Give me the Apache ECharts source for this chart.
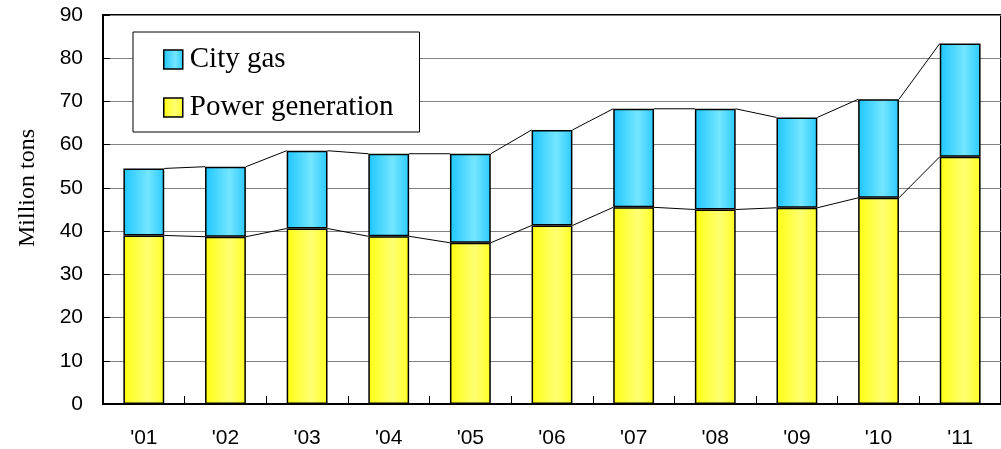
<!DOCTYPE html>
<html>
<head>
<meta charset="utf-8">
<script src="https://cdn.jsdelivr.net/npm/echarts@6/dist/echarts.min.js"></script>
<style>
  html, body { margin: 0; padding: 0; background: #fff; }
  #chart { width: 1001px; height: 449px; }
</style>
</head>
<body>
<div id="chart"></div>
<script>
// 年度
var years = ["'01", "'02", "'03", "'04", "'05", "'06", "'07", "'08", "'09", "'10", "'11"];
// 発電用 (million tons)
var powerGen = [39.0, 38.7, 40.6, 38.8, 37.3, 41.3, 45.5, 45.0, 45.4, 47.7, 57.2];
// 都市ガス用 (million tons)
var cityGas = [15.5, 16.2, 18.0, 19.1, 20.6, 22.1, 22.8, 23.3, 20.9, 22.8, 26.2];
var yTicks = [0, 10, 20, 30, 40, 50, 60, 70, 80, 90];

// stack tops, for the series lines between bars
var totals = powerGen.map(function (v, i) { return v + cityGas[i]; });

var chart = echarts.init(document.getElementById('chart'));

var cyanFill = new echarts.graphic.LinearGradient(0, 0, 1, 0, [
    { offset: 0, color: '#1ec6ff' },
    { offset: 0.6, color: '#74e6ff' },
    { offset: 1, color: '#2ccaff' }
]);
var yellowFill = new echarts.graphic.LinearGradient(0, 0, 1, 0, [
    { offset: 0, color: '#ffff10' },
    { offset: 0.6, color: '#ffff72' },
    { offset: 1, color: '#ffff24' }
]);

var option = {
    animation: false,
    backgroundColor: '#fff',
    grid: {
        left: 103, right: -7, top: 15, bottom: 45,
        show: true, borderColor: '#000', borderWidth: 2
    },
    legend: {
        data: ['City gas', 'Power generation'],
        orient: 'vertical',
        left: 133, top: 32,
        padding: [13, 26, 10, 30],
        itemWidth: 19, itemHeight: 19, itemGap: 19,
        icon: 'rect',
        backgroundColor: '#fff',
        borderColor: '#000',
        borderWidth: 1,
        itemStyle: { borderColor: '#000', borderWidth: 1.5 },
        textStyle: { fontFamily: 'Liberation Serif', fontSize: 29, color: '#000', padding: [0, 0, 0, 2] }
    },
    graphic: [{
        type: 'text',
        x: 28, y: 188,
        rotation: Math.PI / 2,
        style: {
            text: 'Million tons',
            fontFamily: 'Liberation Serif', fontSize: 24, fill: '#000',
            align: 'center', verticalAlign: 'middle'
        }
    }],
    xAxis: {
        type: 'category',
        data: years,
        axisLine: { lineStyle: { color: '#000', width: 2 } },
        axisTick: { show: true, inside: true, length: 8, lineStyle: { color: '#000', width: 1 } },
        axisLabel: { fontFamily: 'Liberation Sans', fontSize: 21, color: '#000', margin: 24 }
    },
    yAxis: {
        type: 'value',
        min: yTicks[0], max: yTicks[yTicks.length - 1], interval: 10,
        axisLine: { show: true, lineStyle: { color: '#000', width: 2 } },
        axisTick: { show: true, inside: true, length: 7, lineStyle: { color: '#000', width: 1 } },
        axisLabel: { fontFamily: 'Liberation Sans', fontSize: 21, color: '#000', margin: 20 },
        splitLine: { lineStyle: { color: '#808080', width: 1 } }
    },
    series: [
        {
            name: 'Power generation',
            type: 'bar',
            stack: 'lng',
            barWidth: '50%',
            data: powerGen,
            itemStyle: { color: yellowFill, borderColor: '#000', borderWidth: 1.5 }
        },
        {
            name: 'City gas',
            type: 'bar',
            stack: 'lng',
            barWidth: '50%',
            data: cityGas,
            itemStyle: { color: cyanFill, borderColor: '#000', borderWidth: 1.5 }
        },
        {
            name: 'series lines',
            type: 'custom',
            silent: true,
            z: 1,
            data: years.map(function (y, i) { return [i, totals[i]]; }),
            renderItem: function (params, api) {
                var i = params.dataIndex;
                if (i >= years.length - 1) return;
                var bw = api.size([1, 0])[0] * 0.5;
                var kids = [];
                [powerGen, totals].forEach(function (arr) {
                    var a = api.coord([i, arr[i]]);
                    var b = api.coord([i + 1, arr[i + 1]]);
                    kids.push({
                        type: 'line',
                        shape: { x1: a[0] + bw / 2, y1: a[1], x2: b[0] - bw / 2, y2: b[1] },
                        style: { stroke: '#000', lineWidth: 1 }
                    });
                });
                return { type: 'group', children: kids };
            }
        }
    ]
};

chart.setOption(option);
</script>
</body>
</html>
